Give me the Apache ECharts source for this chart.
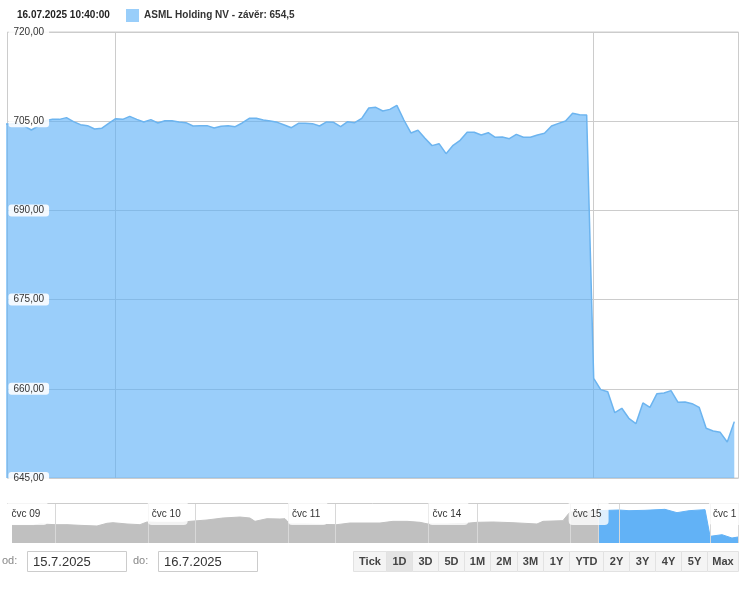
<!DOCTYPE html>
<html>
<head>
<meta charset="utf-8">
<title>ASML Holding NV</title>
<style>
  html, body { margin: 0; padding: 0; background: #fff; }
  #chart { width: 752px; height: 592px; }
</style>
<script src="https://cdn.jsdelivr.net/npm/echarts@6/dist/echarts.min.js"></script>
</head>
<body>
<div id="chart"></div>
<script>
var seriesName = 'ASML Holding NV - závěr: 654,5';
var lastTime = '16.07.2025 10:40:00';

// 5 minute closes
var closes = [
    704.53, 704.53, 704.64, 704.19, 703.52, 704.19, 705.09, 705.31, 705.31, 705.60,
    704.92, 704.42, 704.25, 703.69, 703.80, 704.64, 705.43, 705.31, 705.82, 705.31,
    704.87, 705.26, 704.70, 705.09, 705.09, 704.87, 704.75, 704.19, 704.25, 704.25,
    703.86, 704.14, 704.25, 704.08, 704.70, 705.48, 705.48, 705.20, 705.03, 704.81,
    704.36, 703.91, 704.64, 704.64, 704.59, 704.19, 704.87, 704.81, 704.08, 704.92,
    704.75, 705.48, 707.22, 707.33, 706.72, 706.99, 707.67, 705.20, 703.02, 703.47,
    702.12, 700.89, 701.22, 699.54, 700.94, 701.78, 703.13, 703.13, 702.68, 703.07,
    702.29, 702.34, 702.06, 702.79, 702.29, 702.29, 702.68, 702.96, 704.19, 704.64,
    705.03, 706.32, 706.10, 706.04, 661.76, 659.86, 659.52, 655.99, 656.72, 655.04,
    654.14, 657.62, 656.89, 659.18, 659.30, 659.69, 657.73, 657.78, 657.50, 656.89,
    653.36, 652.91, 652.68, 651.06, 654.48
];
// bars where a day line is drawn
var dayLineBars = [16, 84];

// navigator: time in days from čvc 09
var navLabels = ['čvc 09', 'čvc 10', 'čvc 11', 'čvc 14', 'čvc 15', 'čvc 1'];
var navDayLines = [0.339, 1, 1.339, 2, 2.339, 3, 3.346, 4.009, 4.209, 4.359, 5.008, 5.207];
var navPastDays = [
    0.032, 0.182, 0.232, 0.339, 0.424, 0.517, 0.638, 0.709, 0.752, 0.852, 0.944, 0.994,
    1.066, 1.251, 1.301, 1.422, 1.536, 1.657, 1.728, 1.764, 1.85, 1.942, 1.978, 2.013,
    2.106, 2.206, 2.348, 2.441, 2.655, 2.748, 2.848, 2.94, 2.997, 3.133, 3.275, 3.346,
    3.46, 3.603, 3.774, 3.817, 3.959, 4.009, 4.209
];
var navPastValues = [
    675.0, 675.0, 677.6, 676.3, 676.3, 675.0, 673.7, 678.9, 680.1, 677.6, 676.3, 681.4,
    680.8, 680.8, 682.7, 685.3, 689.1, 691.0, 689.1, 682.7, 687.8, 687.2, 687.8, 677.6,
    677.6, 676.9, 676.3, 679.5, 679.5, 682.7, 682.7, 680.8, 677.6, 677.6, 678.9, 680.8,
    681.4, 680.1, 677.6, 682.7, 684.0, 700.7, 703.2
];
var navRangeDays = [4.209, 4.359, 4.43, 4.544, 4.686, 4.772, 4.858, 4.972, 5.008, 5.093, 5.164, 5.207];
var navRangeValues = [703.2, 704.5, 703.2, 703.9, 705.8, 699.4, 703.2, 705.2, 653.8, 657.0, 650.6, 652.5];

var dateFrom = '15.7.2025';
var dateTo = '16.7.2025';
var rangeButtons = ['Tick', '1D', '3D', '5D', '1M', '2M', '3M', '1Y', 'YTD', '2Y', '3Y', '4Y', '5Y', 'Max'];
var activeButton = '1D';

function zip(xs, ys) {
    return ys.map(function (y, i) { return [xs[i], y]; });
}

// date inputs and range buttons under the navigator
function buildControls() {
    var edges = [353, 386, 412, 438, 464, 490, 517, 543, 569, 603, 629, 655, 681, 707, 738];
    var out = [];
    function label(x, text) {
        out.push({ type: 'text', style: { x: x, y: 561, text: text, fill: '#888', font: '11px "Liberation Sans"', verticalAlign: 'middle' } });
    }
    function input(x, text) {
        out.push({ type: 'rect', shape: { x: x + 0.5, y: 551.5, width: 99, height: 20 }, style: { fill: '#fff', stroke: '#ccc' } });
        out.push({ type: 'text', style: { x: x + 6, y: 562, text: text, fill: '#333', font: '13px "Liberation Sans"', verticalAlign: 'middle' } });
    }
    label(2, 'od:');
    input(27, dateFrom);
    label(133, 'do:');
    input(158, dateTo);
    rangeButtons.forEach(function (name, i) {
        var x0 = edges[i], x1 = edges[i + 1];
        out.push({ type: 'rect', shape: { x: x0 + 0.5, y: 551.5, width: x1 - x0, height: 20 },
            style: { fill: name === activeButton ? '#e4e4e4' : '#f4f4f4', stroke: '#e2e2e2' } });
        out.push({ type: 'text', style: { x: (x0 + x1) / 2 + 0.5, y: 562, text: name, fill: '#444',
            font: 'bold 11px "Liberation Sans"', align: 'center', verticalAlign: 'middle' } });
    });
    return out;
}

var chart = echarts.init(document.getElementById('chart'), null, { renderer: 'canvas' });
chart.setOption({
    animation: false,
    backgroundColor: '#fff',
    textStyle: { fontFamily: '"Liberation Sans", Arial, sans-serif' },
    title: {
        text: lastTime, left: 17, top: 10, padding: 0,
        textStyle: { fontSize: 10, fontWeight: 'bold', color: '#222' }
    },
    legend: {
        left: 126, top: 9, padding: 0, itemWidth: 13, itemHeight: 13, itemGap: 5,
        data: [{ name: seriesName, icon: 'rect', itemStyle: { color: '#99cefa', borderWidth: 0 } }],
        textStyle: { fontSize: 10, fontWeight: 'bold', color: '#333', padding: [1, 0, 0, 0] },
        selectedMode: false
    },
    grid: [
        { left: 7.5, right: 13.5, top: 32, height: 446, show: true, borderColor: '#ccc', borderWidth: 1, outerBoundsMode: 'none' },
        { left: 7.5, right: 14, top: 503, height: 40, outerBoundsMode: 'none' }
    ],
    xAxis: [
        {
            gridIndex: 0, type: 'value', min: 0.61, max: 104.6,
            axisLine: { show: false },
            axisLabel: { show: false },
            axisTick: { show: false, customValues: dayLineBars },
            splitLine: { show: true, lineStyle: { color: '#ccc', width: 1 } }
        },
        {
            gridIndex: 1, type: 'value', min: 0, max: 5.207, position: 'top', z: 5,
            axisLine: { show: true, onZero: false, lineStyle: { color: '#ccc' } },
            axisTick: { show: false, customValues: navDayLines },
            splitLine: { show: true, lineStyle: { color: '#d8d8d8', width: 1 } },
            axisLabel: {
                inside: true, margin: 0, customValues: navLabels.map(function (_, i) { return i; }),
                formatter: function (v) { return navLabels[Math.round(v)]; },
                align: 'left', verticalAlign: 'top', color: '#333', fontSize: 10,
                backgroundColor: 'rgba(255,255,255,0.8)', borderRadius: [0, 0, 4, 4],
                padding: [6, 7, 6, 4]
            }
        }
    ],
    yAxis: [
        {
            gridIndex: 0, type: 'value', min: 645, max: 720, interval: 15,
            axisLine: { show: false }, axisTick: { show: false }, axisLabel: { show: false },
            splitLine: { show: true, lineStyle: { color: '#ccc', width: 1 } }
        },
        {
            // same scale again, only so the labels sit on top of the area
            gridIndex: 0, type: 'value', position: 'left', min: 645, max: 720, interval: 15, z: 5,
            axisLine: { show: false }, axisTick: { show: false }, splitLine: { show: false },
            axisLabel: {
                inside: true, margin: 1, align: 'left', color: '#333', fontSize: 10,
                backgroundColor: 'rgba(255,255,255,0.88)', borderRadius: 3,
                padding: [1, 5, 1, 5],
                formatter: function (v) { return v.toFixed(2).replace('.', ','); }
            }
        },
        {
            gridIndex: 1, type: 'value', min: 641, max: 718, show: false,
            splitLine: { show: false }
        }
    ],
    series: [
        {
            name: seriesName, type: 'line', xAxisIndex: 0, yAxisIndex: 0,
            data: closes.map(function (v, i) { return [i, v]; }),
            symbol: 'none', clip: true,
            lineStyle: { color: '#6cb4ef', width: 1.5 },
            areaStyle: { color: '#56aef6', opacity: 0.6 }
        },
        {
            name: 'past', type: 'line', xAxisIndex: 1, yAxisIndex: 2,
            data: zip(navPastDays, navPastValues),
            symbol: 'none', lineStyle: { color: '#c0c0c0', width: 1 },
            areaStyle: { color: '#c0c0c0', opacity: 1 }
        },
        {
            name: 'range', type: 'line', xAxisIndex: 1, yAxisIndex: 2,
            data: zip(navRangeDays, navRangeValues),
            symbol: 'none', lineStyle: { color: '#62b2f6', width: 1 },
            areaStyle: { color: '#62b2f6', opacity: 1 }
        }
    ],
    graphic: buildControls()
});
</script>
</body>
</html>
